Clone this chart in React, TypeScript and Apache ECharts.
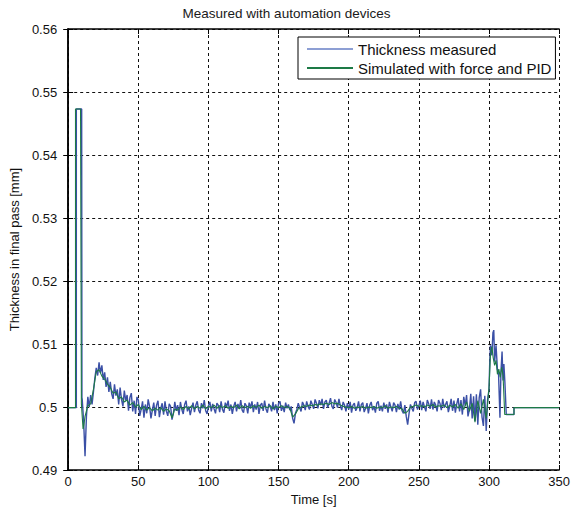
import React, { useEffect, useRef } from "react";
import * as echarts from "echarts";

const TITLE = "Measured with automation devices";
const X_NAME = "Time [s]";
const Y_NAME = "Thickness in final pass [mm]";
const SERIES_NAMES = ["Thickness measured", "Simulated with force and PID"];

// Measured thickness: start-up step [t, mm]
const measuredStart: [number, number][] = [
  [0, 0.4999], [5.8, 0.4999], [5.8, 0.5473], [9.6, 0.5473], [9.8, 0.5015],
];
// Measured thickness sampled every second from t = 10 s to 299 s
const MEASURED_T0 = 10;
const measuredSamples = [
  0.5012, 0.4978, 0.4922, 0.4985, 0.5016, 0.5000, 0.5019, 0.5004, 0.5024, 0.5046,
  0.5062, 0.5050, 0.5071, 0.5054, 0.5066, 0.5043, 0.5055, 0.5032, 0.5047, 0.5024,
  0.5040, 0.5021, 0.5013, 0.5036, 0.5018, 0.5028, 0.5004, 0.5031, 0.5012, 0.5001,
  0.5026, 0.5010, 0.5019, 0.4994, 0.5015, 0.5022, 0.4993, 0.5010, 0.4989, 0.5016,
  0.5011, 0.4986, 0.4996, 0.5009, 0.4983, 0.5004, 0.4990, 0.5012, 0.5001, 0.4982,
  0.4995, 0.5007, 0.4986, 0.5003, 0.5010, 0.4984, 0.4998, 0.5006, 0.4988, 0.5009,
  0.4993, 0.4986, 0.5005, 0.5001, 0.4980, 0.4990, 0.5008, 0.4994, 0.5003, 0.4987,
  0.5008, 0.4996, 0.4989, 0.5004, 0.5010, 0.4993, 0.5001, 0.4987, 0.4998, 0.5007,
  0.4992, 0.5003, 0.5009, 0.4995, 0.4990, 0.5006, 0.4998, 0.5011, 0.4994, 0.4989,
  0.5002, 0.5008, 0.4993, 0.5005, 0.4997, 0.4990, 0.5006, 0.5003, 0.4992, 0.5009,
  0.4996, 0.4991, 0.5007, 0.5000, 0.5010, 0.4994, 0.5004, 0.4989, 0.5001, 0.5008,
  0.4993, 0.5005, 0.4997, 0.5011, 0.4995, 0.4991, 0.5006, 0.5002, 0.4990, 0.5007,
  0.4999, 0.5009, 0.4992, 0.5004, 0.4996, 0.5008, 0.4989, 0.5003, 0.5006, 0.4994,
  0.5010, 0.4997, 0.4991, 0.5005, 0.5001, 0.4993, 0.5008, 0.4995, 0.5004, 0.4990,
  0.5006, 0.5009, 0.4994, 0.5002, 0.4992, 0.5007, 0.4998, 0.5004, 0.4995, 0.5001,
  0.4982, 0.4974, 0.4990, 0.4996, 0.5006, 0.4999, 0.4993, 0.5008, 0.5003, 0.4995,
  0.5009, 0.5001, 0.4996, 0.5010, 0.5004, 0.4997, 0.5012, 0.5006, 0.4998, 0.5011,
  0.5003, 0.5013, 0.4997, 0.5008, 0.5011, 0.4999, 0.5006, 0.5014, 0.5001, 0.4997,
  0.5012, 0.5007, 0.4999, 0.5013, 0.5002, 0.4995, 0.5008, 0.5003, 0.4993, 0.5006,
  0.4996, 0.5008, 0.4991, 0.5003, 0.5006, 0.4994, 0.4999, 0.5009, 0.4993, 0.5004,
  0.5007, 0.4992, 0.4998, 0.5006, 0.4990, 0.5003, 0.5008, 0.4995, 0.5001, 0.4991,
  0.5006, 0.5009, 0.4994, 0.5002, 0.4993, 0.5007, 0.4997, 0.5004, 0.4991, 0.5008,
  0.5000, 0.4993, 0.5007, 0.5003, 0.4992, 0.5005, 0.4996, 0.5009, 0.4994, 0.4990,
  0.5003, 0.4985, 0.4972, 0.4990, 0.5004, 0.4998, 0.4993, 0.5007, 0.5009, 0.4996,
  0.5002, 0.5010, 0.4995, 0.5008, 0.5000, 0.4993, 0.5011, 0.5005, 0.4997, 0.5012,
  0.4996, 0.5008, 0.5003, 0.4993, 0.5011, 0.5006, 0.4995, 0.5013, 0.4999, 0.5004,
  0.5009, 0.4992, 0.5001, 0.5013, 0.4994, 0.5010, 0.4991, 0.5005, 0.5014, 0.4993,
  0.5011, 0.4988, 0.5016, 0.5002, 0.5019, 0.4985, 0.4996, 0.5021, 0.4982, 0.5017,
  0.4978, 0.5020, 0.4972, 0.5015, 0.5028, 0.4984, 0.4970, 0.5018, 0.4962, 0.5012,
];
// Measured thickness: end transient [t, mm]
const measuredEnd: [number, number][] = [
  [300, 0.5028], [300.5, 0.5070], [301, 0.5098], [302, 0.5082], [302.8, 0.5118],
  [303.4, 0.5122], [304, 0.5072], [305, 0.5098], [306, 0.5060], [306.8, 0.5052],
  [307.8, 0.4983], [308.5, 0.5055], [309.3, 0.5088], [310, 0.5042], [310.6, 0.5068],
  [311.3, 0.5040], [312.3, 0.4988], [317.8, 0.4988], [317.8, 0.4999], [350, 0.4999],
];

// Simulated thickness: start-up step [t, mm]
const simulatedStart: [number, number][] = [
  [0, 0.4999], [5.2, 0.4999], [5.2, 0.5473], [8.8, 0.5473], [9.4, 0.5005],
  [10.6, 0.4965], [11.2, 0.4972],
];
// Simulated thickness sampled every 2 s from t = 12 s to 298 s
const SIMULATED_T0 = 12;
const SIMULATED_DT = 2;
const simulatedSamples = [
  0.4985, 0.5002, 0.5005, 0.5028, 0.5056, 0.5059, 0.5049, 0.5044, 0.5036, 0.5031,
  0.5022, 0.5024, 0.5013, 0.5016, 0.5008, 0.5011, 0.5003, 0.5007, 0.5000, 0.5004,
  0.4996, 0.5001, 0.4995, 0.4999, 0.4994, 0.4998, 0.4995, 0.4999, 0.4993, 0.4997,
  0.4994, 0.4983, 0.4997, 0.4995, 0.5000, 0.4996, 0.5001, 0.4997, 0.5002, 0.4997,
  0.5001, 0.4998, 0.5003, 0.4997, 0.5001, 0.4999, 0.5003, 0.4998, 0.5002, 0.4999,
  0.5002, 0.4998, 0.5001, 0.4999, 0.5003, 0.4997, 0.5002, 0.4999, 0.5001, 0.4998,
  0.5002, 0.4999, 0.5003, 0.4998, 0.5001, 0.4999, 0.5002, 0.4997, 0.5001, 0.4999,
  0.5002, 0.4999, 0.5001, 0.4998, 0.4984, 0.4989, 0.4997, 0.5000, 0.5002, 0.5001,
  0.5003, 0.5002, 0.5004, 0.5003, 0.5005, 0.5004, 0.5006, 0.5004, 0.5007, 0.5005,
  0.5006, 0.5003, 0.5001, 0.5000, 0.4999, 0.5001, 0.4998, 0.5000, 0.4999, 0.5001,
  0.4998, 0.5000, 0.4999, 0.5001, 0.4998, 0.5000, 0.4999, 0.5002, 0.4998, 0.5000,
  0.4999, 0.5001, 0.4998, 0.4997, 0.4990, 0.4993, 0.5000, 0.5001, 0.5003, 0.5001,
  0.5002, 0.5000, 0.5003, 0.5001, 0.5004, 0.5000, 0.5002, 0.5001, 0.5003, 0.4999,
  0.5003, 0.5000, 0.5004, 0.4998, 0.5005, 0.4996, 0.5008, 0.4993, 0.5006, 0.4976,
  0.5010, 0.4990, 0.5012, 0.4982,
];
// Simulated thickness: end transient [t, mm]
const simulatedEnd: [number, number][] = [
  [300, 0.5030], [301, 0.5082], [302, 0.5096], [303, 0.5078], [304, 0.5066],
  [305, 0.5074], [306, 0.5052], [307, 0.5060], [308, 0.5047], [309, 0.5063],
  [310, 0.5050], [311.2, 0.4988], [317.8, 0.4988], [317.8, 0.4999], [350, 0.4999],
];

const X_MIN = 0, X_MAX = 350, X_STEP = 50;
const Y_MIN = 0.49, Y_MAX = 0.56, Y_STEP = 0.01;

const FONT = "'Liberation Sans', Arial, Helvetica, sans-serif";
const BLUE = "#3b50a6";
const GREEN = "#1d7a46";
const LEGEND_BLUE = "#8d9fd4";

export default function App() {
  const ref = useRef<HTMLDivElement>(null);
  useEffect(() => {
    if (!ref.current) return;
    const chart = echarts.init(ref.current, null, { renderer: "svg" });
    const measured: [number, number][] = [
      ...measuredStart,
      ...measuredSamples.map((v, i) => [MEASURED_T0 + i, v] as [number, number]),
      ...measuredEnd,
    ];
    const simulated: [number, number][] = [
      ...simulatedStart,
      ...simulatedSamples.map((v, i) => [SIMULATED_T0 + i * SIMULATED_DT, v] as [number, number]),
      ...simulatedEnd,
    ];
    const frame = { show: true, lineStyle: { color: "#000", width: 1.5 } };
    const grid = { show: true, lineStyle: { color: "#111", type: [3, 3], width: 1 } };
    const ticks = { show: true, inside: true, length: 5, lineStyle: { color: "#000" } };
    const label = { color: "#111", fontSize: 13, fontFamily: FONT };
    chart.setOption({
      animation: false,
      backgroundColor: "#fff",
      title: {
        text: TITLE,
        left: "center",
        top: 1,
        textStyle: { fontSize: 13.5, fontWeight: "normal", color: "#1a1a1a", fontFamily: FONT },
      },
      grid: { left: 68, right: 12, top: 29, bottom: 41, containLabel: false },
      legend: {
        orient: "vertical",
        left: 298,
        top: 37,
        padding: [4, 4, 3, 9],
        itemWidth: 46,
        itemHeight: 2,
        itemGap: 3,
        backgroundColor: "#fff",
        borderColor: "#000",
        borderWidth: 1,
        borderRadius: 0,
        textStyle: { fontSize: 15, color: "#111", fontFamily: FONT, height: 16, lineHeight: 16 },
        data: [
          { name: SERIES_NAMES[0], icon: "rect", itemStyle: { color: LEGEND_BLUE, borderWidth: 0 } },
          { name: SERIES_NAMES[1], icon: "rect", itemStyle: { color: GREEN, borderWidth: 0 } },
        ],
      },
      xAxis: [
        {
          type: "value", min: X_MIN, max: X_MAX, interval: X_STEP,
          name: X_NAME, nameLocation: "middle", nameGap: 22,
          nameTextStyle: { fontSize: 13, color: "#111", fontFamily: FONT },
          axisLine: frame, axisTick: ticks, splitLine: grid,
          axisLabel: { ...label, margin: 5 },
        },
        {
          type: "value", min: X_MIN, max: X_MAX, interval: X_STEP, position: "top",
          axisLine: frame, axisTick: ticks, splitLine: { show: false }, axisLabel: { show: false },
        },
      ],
      yAxis: [
        {
          type: "value", min: Y_MIN, max: Y_MAX, interval: Y_STEP,
          name: Y_NAME, nameLocation: "middle", nameGap: 44,
          nameTextStyle: { fontSize: 13, color: "#111", fontFamily: FONT },
          axisLine: frame, axisTick: ticks, splitLine: grid,
          axisLabel: { ...label, margin: 11, formatter: (v: number) => String(parseFloat(v.toFixed(2))) },
        },
        {
          type: "value", min: Y_MIN, max: Y_MAX, interval: Y_STEP, position: "right",
          axisLine: frame, axisTick: ticks, splitLine: { show: false }, axisLabel: { show: false },
        },
      ],
      series: [
        {
          name: SERIES_NAMES[0], type: "line", data: measured, symbol: "none",
          lineStyle: { color: BLUE, width: 1.4 }, itemStyle: { color: BLUE }, z: 2,
        },
        {
          name: SERIES_NAMES[1], type: "line", data: simulated, symbol: "none",
          lineStyle: { color: GREEN, width: 1.1 }, itemStyle: { color: GREEN }, z: 3,
        },
      ],
    });
    return () => chart.dispose();
  }, []);
  return (
    <div
      ref={ref}
      style={{ position: "fixed", left: 0, top: 0, width: 573, height: 511, background: "#fff" }}
    />
  );
}
